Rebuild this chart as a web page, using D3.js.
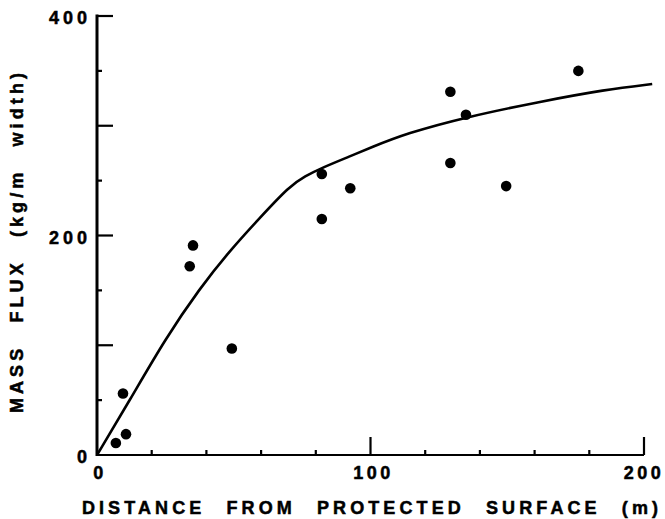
<!DOCTYPE html>
<html>
<head>
<meta charset="utf-8">
<script src="https://cdn.jsdelivr.net/npm/d3@7"></script>
<style>
  html, body { margin: 0; padding: 0; background: #fff; }
  text { font-family: "Liberation Sans", Arial, sans-serif; font-weight: bold; fill: #000; stroke: #000; stroke-width: 0.5px; }
</style>
</head>
<body>
<div id="chart"></div>
<script>
// observed points (distance m, mass flux kg/m width)
const obsDistance = [6.9, 10.6, 9.5, 49.3, 33.9, 35.1, 82.2, 82.2, 92.6, 129.2, 134.9, 129.2, 149.6, 176];
const obsFlux     = [11, 19, 56, 97, 172, 191, 256, 215, 243, 331, 310, 266, 245, 350];

// fitted curve
const curveDistance = [0, 0, 12, 25, 37.6, 48.5, 59.5, 70.4, 76, 82.5, 92.3, 100, 113, 135, 162, 186, 203, 203];
const curveFlux     = [0, 0, 50, 106, 152, 186, 216, 245, 254, 262, 272, 280, 293, 308, 322, 333, 338, 338];

const xTicks = [20, 40, 60, 80, 100, 120, 140, 160, 180, 200];
const xLabels = [0, 100, 200];
const yTicks = [50, 100, 150, 200, 250, 300, 350, 400];
const yLabels = [0, 200, 400];

const width = 665, height = 519;

const svg = d3.select('#chart').append('svg')
    .attr('width', width)
    .attr('height', height);

const x = d3.scaleLinear().domain([0, 200]).range([97, 644]);
const y = d3.scaleLinear().domain([0, 400]).range([455, 16]);

// x axis
svg.append('line')
    .attr('x1', x(0)).attr('x2', x(200))
    .attr('y1', y(0)).attr('y2', y(0))
    .attr('stroke', '#000').attr('stroke-width', 2.2);

svg.append('g').selectAll('line')
    .data(xTicks)
    .enter().append('line')
    .attr('x1', d => x(d)).attr('x2', d => x(d))
    .attr('y1', y(0))
    .attr('y2', d => y(0) - (d % 100 === 0 ? 18 : 5))
    .attr('stroke', '#000').attr('stroke-width', 2.2);

svg.append('g').selectAll('text')
    .data(xLabels)
    .enter().append('text')
    .attr('x', d => x(d) + (d === 200 ? 0 : 3))
    .attr('y', 479)
    .attr('text-anchor', 'middle')
    .attr('font-size', 18)
    .attr('letter-spacing', 3.5)
    .text(d => d);

// y axis
svg.append('line')
    .attr('x1', x(0)).attr('x2', x(0))
    .attr('y1', y(0) + 1).attr('y2', y(400) - 1.5)
    .attr('stroke', '#000').attr('stroke-width', 3);

svg.append('g').selectAll('line')
    .data(yTicks)
    .enter().append('line')
    .attr('x1', x(0)).attr('y1', d => y(d))
    .attr('x2', d => x(0) + (d % 100 === 0 ? 16 : 5))
    .attr('y2', d => y(d))
    .attr('stroke', '#000').attr('stroke-width', 2.2);

svg.append('g').selectAll('text')
    .data(yLabels)
    .enter().append('text')
    .attr('x', 91)
    .attr('y', d => y(d) + 8)
    .attr('text-anchor', 'end')
    .attr('font-size', 18)
    .attr('letter-spacing', 4)
    .text(d => d);

// fitted curve
const line = d3.line()
    .x(d => x(d[0]))
    .y(d => y(d[1]))
    .curve(d3.curveBasis);

svg.append('path')
    .datum(d3.zip(curveDistance, curveFlux))
    .attr('d', line)
    .attr('fill', 'none')
    .attr('stroke', '#000')
    .attr('stroke-width', 2.6);

// points
svg.append('g').selectAll('circle')
    .data(d3.zip(obsDistance, obsFlux))
    .enter().append('circle')
    .attr('cx', d => x(d[0]))
    .attr('cy', d => y(d[1]))
    .attr('r', 5.3)
    .attr('fill', '#000');

// axis titles
svg.append('text')
    .attr('x', 372)
    .attr('y', 514)
    .attr('text-anchor', 'middle')
    .attr('font-size', 18)
    .attr('letter-spacing', 4.1)
    .attr('word-spacing', 12)
    .text('DISTANCE FROM PROTECTED SURFACE (m)');

svg.append('text')
    .attr('transform', 'translate(23,241) rotate(-90)')
    .attr('text-anchor', 'middle')
    .attr('font-size', 18)
    .attr('letter-spacing', 4.1)
    .attr('word-spacing', 13)
    .text('MASS FLUX (kg/m width)');
</script>
</body>
</html>
